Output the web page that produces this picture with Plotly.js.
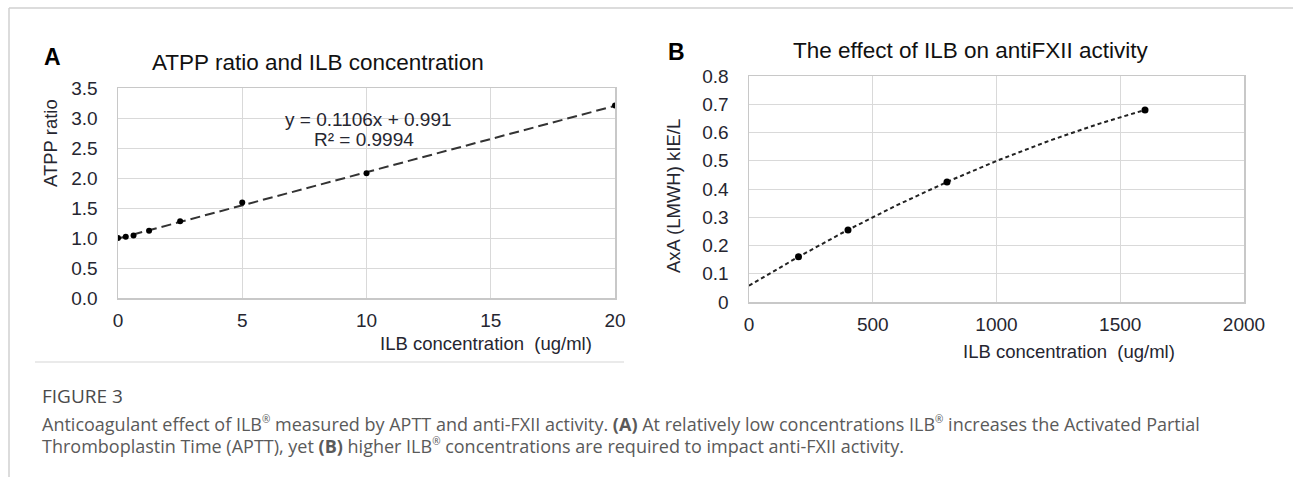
<!DOCTYPE html>
<html>
<head>
<meta charset="utf-8">
<script src="https://cdn.plot.ly/plotly-3.0.1.min.js"></script>
<style>
html,body{margin:0;padding:0;background:#fff;}
#chart{width:1293px;height:477px;}
</style>
</head>
<body>
<div id="chart"></div>
<script>
// Panel A data
const concA = [0, 0.3125, 0.625, 1.25, 2.5, 5, 10, 20];
const ratioA = [1.0, 1.02, 1.04, 1.12, 1.28, 1.59, 2.08, 3.21];
const trendA = {slope: 0.1106, intercept: 0.991};
const xTicksA = [0, 5, 10, 15, 20];
const yTicksA = [0, 0.5, 1.0, 1.5, 2.0, 2.5, 3.0, 3.5];
const yTickTextA = ["0.0","0.5","1.0","1.5","2.0","2.5","3.0","3.5"];

// Panel B data
const concB = [200, 400, 800, 1600];
const axaB = [0.16, 0.255, 0.425, 0.68];
const xTicksB = [0, 500, 1000, 1500, 2000];
const yTicksB = [0, 0.1, 0.2, 0.3, 0.4, 0.5, 0.6, 0.7, 0.8];
const yTickTextB = ["0","0.1","0.2","0.3","0.4","0.5","0.6","0.7","0.8"];

// Quadratic least-squares trendline (as Excel's polynomial trendline)
function polyfit2(xs, ys) {
  let S = [0,0,0,0,0], T = [0,0,0];
  for (let i = 0; i < xs.length; i++) {
    let p = 1;
    for (let k = 0; k < 5; k++) { S[k] += p; if (k < 3) T[k] += p * ys[i]; p *= xs[i]; }
  }
  const M = [[S[0],S[1],S[2],T[0]],[S[1],S[2],S[3],T[1]],[S[2],S[3],S[4],T[2]]];
  for (let c = 0; c < 3; c++) {
    for (let r = c + 1; r < 3; r++) {
      const f = M[r][c] / M[c][c];
      for (let k = c; k < 4; k++) M[r][k] -= f * M[c][k];
    }
  }
  const a = [0,0,0];
  for (let r = 2; r >= 0; r--) {
    let s = M[r][3];
    for (let k = r + 1; k < 3; k++) s -= M[r][k] * a[k];
    a[r] = s / M[r][r];
  }
  return a;
}
const coefB = polyfit2(concB, axaB);
const trendBx = [], trendBy = [];
for (let i = 0; i <= 80; i++) {
  const x = 1600 * i / 80;
  trendBx.push(x);
  trendBy.push(coefB[0] + coefB[1] * x + coefB[2] * x * x);
}
const trendAx = [0, 20];
const trendAy = trendAx.map(x => trendA.slope * x + trendA.intercept);

const W = 1293, H = 477;
const px = v => v / W, py = v => 1 - v / H;

const FAM = 'Liberation Sans, Arial, sans-serif';
const TXT = '#262630';
const tickFont = {family: FAM, size: 19, color: TXT};
const gridCol = '#d9d9d9';

const traces = [
  {x: trendAx, y: trendAy, xaxis: 'x', yaxis: 'y', mode: 'lines',
   line: {color: '#333', width: 2, dash: '10px,5px'}, hoverinfo: 'skip'},
  {x: concA, y: ratioA, xaxis: 'x', yaxis: 'y', mode: 'markers',
   marker: {color: '#000', size: 6}},
  {x: trendBx, y: trendBy, xaxis: 'x2', yaxis: 'y2', mode: 'lines',
   line: {color: '#222', width: 2, dash: '4px,3px'}, hoverinfo: 'skip'},
  {x: concB, y: axaB, xaxis: 'x2', yaxis: 'y2', mode: 'markers',
   marker: {color: '#000', size: 7}}
];

function axX(domain, range, ticks) {
  return {domain: domain, range: range, tickvals: ticks, ticktext: ticks.map(String),
    showgrid: true, gridcolor: gridCol, gridwidth: 1, zeroline: false,
    showline: true, linecolor: '#c8c8c8', linewidth: 1.5, mirror: true,
    ticks: '', tickfont: tickFont, ticklabelstandoff: 5, fixedrange: true};
}
function axY(domain, range, ticks, text) {
  return {domain: domain, range: range, tickvals: ticks, ticktext: text,
    showgrid: true, gridcolor: gridCol, gridwidth: 1, zeroline: false,
    showline: true, linecolor: '#c8c8c8', linewidth: 1.5, mirror: true,
    ticks: '', tickfont: tickFont, ticklabelstandoff: 15, fixedrange: true};
}

const xa = axX([px(118), px(615)], [0, 20], xTicksA);
const ya = axY([py(298), py(88)], [0, 3.5], yTicksA, yTickTextA);
const xb = axX([px(749), px(1244)], [0, 2000], xTicksB);
const yb = axY([py(302), py(76)], [0, 0.8], yTicksB, yTickTextB);
xb.anchor = 'y2'; yb.anchor = 'x2';

function ann(text, x, y, font, extra) {
  return Object.assign({text: text, x: px(x), y: py(y), xref: 'paper', yref: 'paper',
    xanchor: 'center', yanchor: 'middle', showarrow: false, font: font}, extra || {});
}
const f18 = {family: FAM, size: 18.5, color: TXT};
const fEq = {family: FAM, size: 19, color: TXT};
const fTitle = {family: FAM, size: 22.5, color: '#111'};
const fLetter = {family: FAM, size: 23, color: '#000'};
const fCapHead = {family: 'Open Sans, sans-serif', size: 19, color: '#4a4a4a'};
const fCap = {family: 'Open Sans, sans-serif', size: 18, color: '#5a5a5a'};
const REG = '<sup><span style="font-size:10px">®</span></sup>';

const layout = {
  width: W, height: H,
  margin: {l: 0, r: 0, t: 0, b: 0},
  paper_bgcolor: '#fff', plot_bgcolor: '#fff',
  showlegend: false,
  xaxis: xa, yaxis: ya, xaxis2: xb, yaxis2: yb,
  annotations: [
    ann('<b>A</b>', 52, 57, fLetter),
    ann('<b>B</b>', 677, 52, fLetter),
    ann('ATPP ratio and ILB concentration', 318, 62, fTitle),
    ann('The effect of ILB on antiFXII activity', 971, 51, fTitle),
    ann('y = 0.1106x + 0.991', 368, 119, fEq),
    ann('R² = 0.9994', 364, 139, fEq),
    ann('ILB concentration  (ug/ml)', 486, 343, f18),
    ann('ILB concentration  (ug/ml)', 1069, 351, f18),
    ann('ATPP ratio', 50, 143, f18, {textangle: -90}),
    ann('AxA (LMWH) kIE/L', 673, 196, f18, {textangle: -90}),
    ann('FIGURE 3', 40, 396, fCapHead, {xanchor: 'left'}),
    ann('Anticoagulant effect of ILB' + REG + ' measured by APTT and anti-FXII activity. <b>(A)</b> At relatively low concentrations ILB' + REG + ' increases the Activated Partial',
        40, 424, fCap, {xanchor: 'left'}),
    ann('Thromboplastin Time (APTT), yet <b>(B)</b> higher ILB' + REG + ' concentrations are required to impact anti-FXII activity.',
        40, 446, fCap, {xanchor: 'left'})
  ],
  shapes: [
    {type: 'line', xref: 'paper', yref: 'paper', x0: px(9), x1: 1, y0: py(8), y1: py(8), line: {color: '#d0d0d0', width: 1.5}},
    {type: 'line', xref: 'paper', yref: 'paper', x0: px(9), x1: px(9), y0: py(8), y1: 0, line: {color: '#d0d0d0', width: 1.5}},
    {type: 'line', xref: 'paper', yref: 'paper', x0: px(35), x1: px(624), y0: py(362), y1: py(362), line: {color: '#e3e3e3', width: 1.5}}
  ]
};

Plotly.newPlot('chart', traces, layout, {staticPlot: true, displayModeBar: false});
</script>
</body>
</html>
